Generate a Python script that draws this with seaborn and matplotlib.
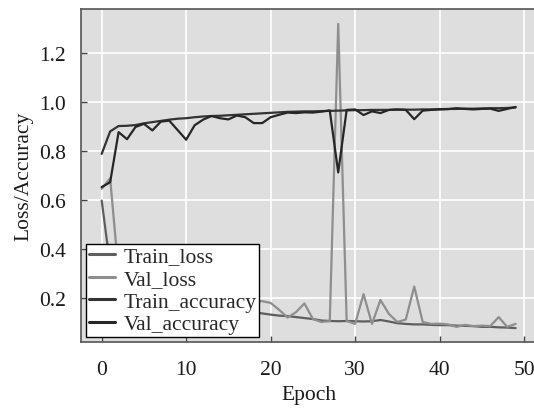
import matplotlib
matplotlib.use("Agg")
import matplotlib.pyplot as plt
import seaborn as sns
import numpy as np

epochs = list(range(50))

train_loss = [0.597, 0.33, 0.26, 0.23, 0.21, 0.20, 0.19, 0.185, 0.18, 0.175,
              0.17, 0.165, 0.16, 0.155, 0.15, 0.148, 0.145, 0.142, 0.140, 0.135,
              0.130, 0.126, 0.124, 0.120, 0.116, 0.112, 0.106, 0.104, 0.103, 0.104,
              0.103, 0.102, 0.103, 0.108, 0.102, 0.095, 0.092, 0.090, 0.090, 0.088,
              0.087, 0.087, 0.085, 0.084, 0.083, 0.080, 0.080, 0.078, 0.077, 0.075]

val_loss = [0.645, 0.688, 0.30, 0.28, 0.24, 0.25, 0.22, 0.20, 0.21, 0.24,
            0.26, 0.19, 0.17, 0.16, 0.17, 0.18, 0.15, 0.16, 0.185, 0.185,
            0.178, 0.150, 0.118, 0.140, 0.176, 0.112, 0.100, 0.103, 1.320, 0.104,
            0.092, 0.214, 0.092, 0.190, 0.133, 0.100, 0.110, 0.245, 0.100, 0.092,
            0.093, 0.090, 0.080, 0.088, 0.083, 0.085, 0.083, 0.120, 0.080, 0.092]

train_acc = [0.788, 0.880, 0.902, 0.903, 0.906, 0.913, 0.918, 0.923, 0.928, 0.932,
             0.934, 0.938, 0.941, 0.943, 0.944, 0.946, 0.948, 0.950, 0.952, 0.954,
             0.956, 0.958, 0.960, 0.961, 0.962, 0.962, 0.963, 0.964, 0.965, 0.966,
             0.967, 0.967, 0.968, 0.968, 0.968, 0.969, 0.969, 0.969, 0.970, 0.970,
             0.971, 0.972, 0.972, 0.973, 0.973, 0.974, 0.975, 0.975, 0.976, 0.978]

val_acc = [0.652, 0.672, 0.877, 0.848, 0.898, 0.911, 0.884, 0.920, 0.924, 0.885,
           0.846, 0.905, 0.928, 0.943, 0.934, 0.929, 0.945, 0.938, 0.914, 0.914,
           0.938, 0.948, 0.957, 0.955, 0.958, 0.957, 0.961, 0.966, 0.712, 0.968,
           0.970, 0.947, 0.962, 0.955, 0.968, 0.970, 0.968, 0.930, 0.965, 0.968,
           0.970, 0.971, 0.975, 0.972, 0.970, 0.972, 0.973, 0.964, 0.972, 0.980]

series_names = ["Train_loss", "Val_loss", "Train_accuracy", "Val_accuracy"]
series_colors = ["#5e5e5e", "#8e8e8e", "#333333", "#262626"]
x_ticks = [0, 10, 20, 30, 40, 50]
y_ticks = [0.2, 0.4, 0.6, 0.8, 1.0, 1.2]

sns.set_theme(style="darkgrid")
plt.rcParams["font.family"] = ["Liberation Serif", "DejaVu Serif"]
plt.rcParams["axes.facecolor"] = "#dedede"
plt.rcParams["grid.color"] = "white"
plt.rcParams["grid.linewidth"] = 1.2

fig = plt.figure(figsize=(5.34, 4.10), dpi=100)
ax = fig.add_axes([81 / 534, (410 - 343) / 410, (536.3 - 81) / 534, 333 / 410])

for name, vals, col in zip(series_names, [train_loss, val_loss, train_acc, val_acc], series_colors):
    sns.lineplot(x=epochs, y=vals, ax=ax, color=col, linewidth=1.6, label=name)

ax.set_xlim(-2.45, 51.45)
ax.set_ylim(0.018, 1.381)
ax.set_xticks(x_ticks)
ax.set_yticks(y_ticks)
ax.set_yticklabels([f"{t:.1f}" for t in y_ticks])
ax.tick_params(axis="both", direction="in", length=4, width=1, color="#444444",
               labelsize=15.5, pad=11, bottom=True, left=True, labelcolor="#1a1a1a")
ax.tick_params(axis="x", pad=13)
for s in ["left", "bottom", "top", "right"]:
    ax.spines[s].set_visible(True)
    ax.spines[s].set_color("#555555")
    ax.spines[s].set_linewidth(1.2)

ax.set_xlabel("Epoch", fontsize=15.5, color="#1a1a1a")
ax.set_ylabel("Loss/Accuracy", fontsize=15.5, color="#1a1a1a")

leg = ax.legend(loc="lower left", fontsize=15.5, frameon=True, fancybox=False,
                framealpha=1, facecolor="white", edgecolor="black",
                borderpad=0.1, labelspacing=0.12, handlelength=1.25,
                handletextpad=0.4, borderaxespad=0.25)
leg.get_frame().set_linewidth(1.0)
for line in leg.get_lines():
    line.set_linewidth(2.2)

fig.savefig("out.png", dpi=100)
